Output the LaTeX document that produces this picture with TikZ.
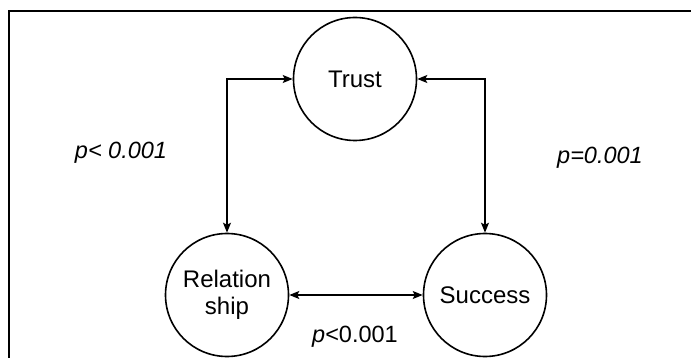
\documentclass[tikz,border=0pt]{standalone}
\usepackage{fontspec}
\setmainfont{Liberation Sans}
\usetikzlibrary{arrows.meta}
\begin{document}
\begin{tikzpicture}[x=1pt,y=-1pt,
  factor/.style={circle,draw,line width=1.6pt,minimum size=123pt,inner sep=0pt,
                 align=center,font=\fontsize{24}{27}\selectfont},
  link/.style={line width=1.4pt,{Stealth[length=10pt,width=8pt,inset=2pt]}-{Stealth[length=10pt,width=8pt,inset=2pt]}},
  plabel/.style={font=\fontsize{23.5}{27}\selectfont}]
  \useasboundingbox (0,0) rectangle (691,358);
  % open frame: top and left edges only
  \draw[line width=2pt] (9,358) -- (9,11) -- (691,11);

  \node[factor] (trust) at (355,79) {Trust};
  \node[factor] (rel) at (227,295) {Relation\\ship};
  \node[factor] (succ) at (485,295) {Success};

  \draw[link] (trust.west) -| (rel.north);
  \draw[link] (trust.east) -| (succ.north);
  \draw[link] (rel.east) -- (succ.west);

  \node[plabel] (pl) at (121,153) {\textit{p< 0.001}};
  \node[plabel] (pr) at (600,158) {\textit{p=0.001}};
  \node[plabel] (pb) at (355,337) {\textit{p}<0.001};
\end{tikzpicture}
\end{document}
